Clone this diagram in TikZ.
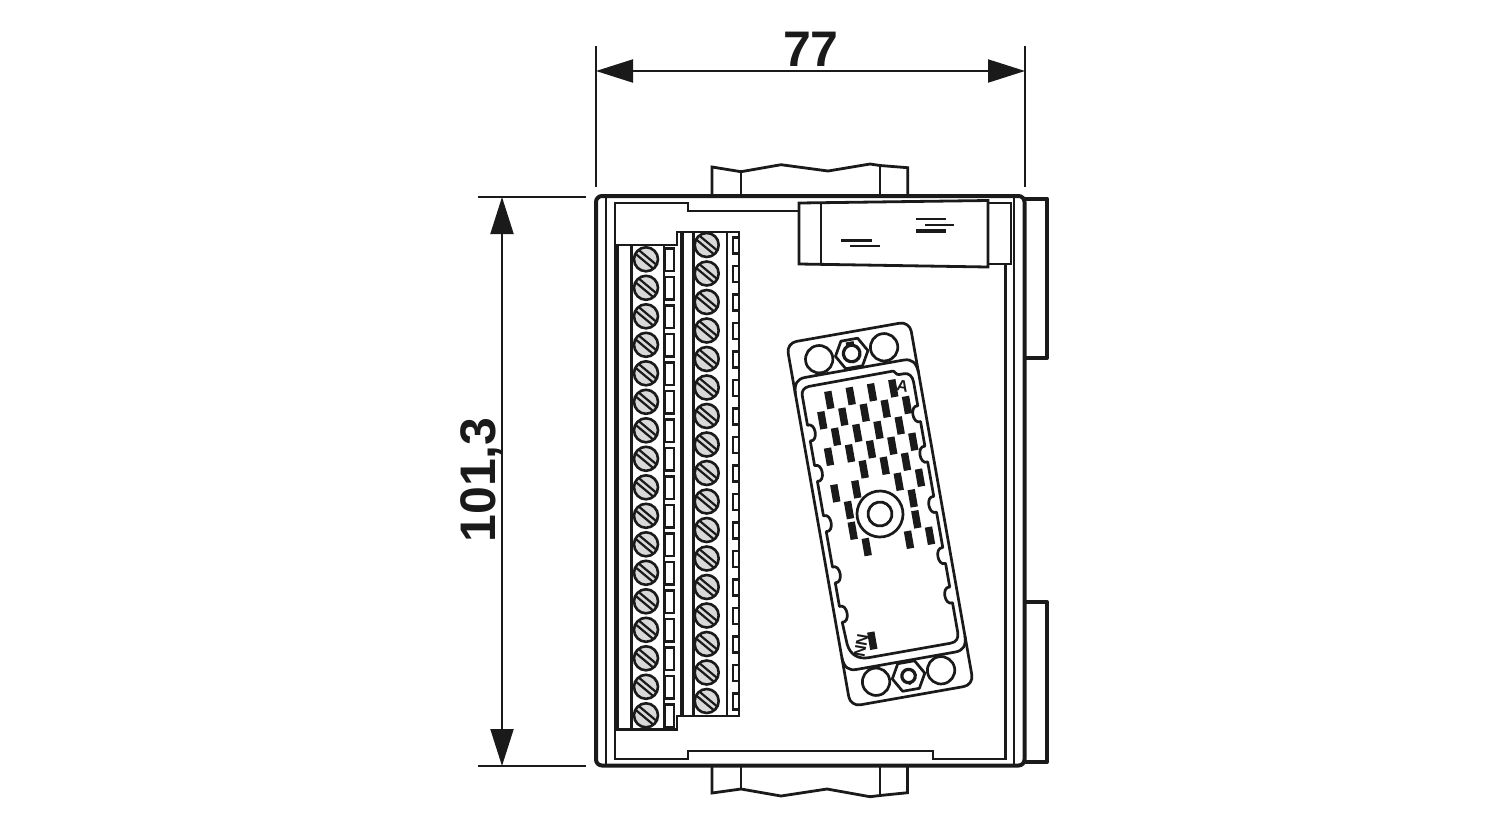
\documentclass[tikz,border=0pt]{standalone}
\usepackage{fontspec}
\setmainfont{Liberation Sans}
\usetikzlibrary{arrows.meta}
\definecolor{ink}{HTML}{1A1A1A}
\definecolor{screwgray}{HTML}{D9D9D9}
\tikzset{
  x=0.5pt,y=-0.5pt,
  base/.style={draw=ink,line width=1.4pt,line join=miter},
  heavy/.style={draw=ink,line width=2pt,line join=round},
  dimline/.style={draw=ink,line width=1pt},
  dimarrow/.style={draw=ink,line width=1pt,{Triangle[length=18.5pt,width=11.5pt,fill=ink]}-{Triangle[length=18.5pt,width=11.5pt,fill=ink]}},
  dimtext/.style={font=\fontsize{25}{25}\selectfont\bfseries,text=ink,inner sep=0pt},
  tinytext/.style={font=\fontsize{8}{8}\selectfont\bfseries,text=ink,inner sep=0pt},
  plate/.style={draw=ink,line width=1.35pt,line join=round},
}
\newcommand{\screwat}[2]{%
  \begin{scope}[shift={(#1,#2)}]
    \filldraw[fill=screwgray,draw=ink,line width=1.3pt] (0,0) circle[radius=12];
    \draw[draw=ink,line width=1.1pt] (-7.4,-9.4) -- (10.6,5.6);
    \draw[draw=ink,line width=1.1pt] (-10.6,-5.6) -- (7.4,9.4);
  \end{scope}}
\newcommand{\pinat}[2]{\fill[ink,shift={(#1,#2)},rotate=10] (-3.7,-8.8) rectangle (3.7,8.8);}
\begin{document}
\begin{tikzpicture}
\useasboundingbox (0,0) rectangle (1500,820);
\fill[white] (0,0) rectangle (1500,820);

% tabs top and bottom
\draw[base] (712,196) -- (712,167) -- (741,171.7) -- (781,164.7) -- (828,171) -- (870,164) -- (880,165.5) -- (907.7,167.7) -- (907.7,196);
\draw[base] (741,171.7) -- (741,196);
\draw[base] (880,165.5) -- (880,196);
\draw[base] (712,766) -- (712,793) -- (741,789) -- (781,796) -- (827,789) -- (870,796.7) -- (880,795.5) -- (907.5,792.7) -- (907.5,766);
\draw[base] (741,789) -- (741,766);
\draw[base] (880,795.5) -- (880,766);

% rails
\draw[heavy] (1024,198.5) -- (1047,198.5) -- (1047,358) -- (1024,358);
\draw[heavy] (1024,602) -- (1047,602) -- (1047,762) -- (1024,762);

% frame
\draw[heavy,rounded corners=3pt] (596,196) rectangle (1024.5,765.5);
\draw[base] (606,196) -- (606,765.5);
\draw[base] (1014,196) -- (1014,765.5);
\draw[base] (799,211) -- (688,211) -- (688,203) -- (615,203) -- (615,759) -- (688,759) -- (688,751) -- (933,751) -- (933,759) -- (1005.5,759) -- (1005.5,264);

% handle
\draw[base] (799,203) -- (988,200.5) -- (988,267) -- (799,264) -- cycle;
\draw[base] (821,202.7) -- (821,264.3);
\draw[base] (988,203) -- (1011,203) -- (1011,264) -- (988,264);
\draw[base] (916,219) -- (946,219) (925,225) -- (954,225);
\draw[draw=ink,line width=1.6pt] (916,231) -- (946,231);
\draw[base] (841,240.5) -- (872,240.5) (850,246) -- (880,246);

% terminal blocks
\draw[base] (616,245) -- (677,245) -- (677,232) -- (739,232) -- (739,716) -- (677,716) -- (677,729.5) -- (616,729.5) -- cycle;
\draw[heavy] (616.5,245) -- (616.5,729.5);
\draw[heavy] (681.7,232) -- (681.7,716);
\draw[base] (631.7,245) -- (631.7,729.5) (664,245) -- (664,729.5);
\draw[base] (693.3,232) -- (693.3,716) (727,232) -- (727,716);
\foreach \i in {0,...,16}{
  \pgfmathsetmacro\ya{259.3+28.5*\i}
  \pgfmathsetmacro\yb{245+28.5*\i}
  \pgfmathsetmacro\yc{248.5+28.5*\i}
  \pgfmathsetmacro\yd{\yc+22.5}
  \pgfmathsetmacro\ye{237.3+28.5*\i}
  \pgfmathsetmacro\yf{\ye+16}
  \screwat{646}{\ya}
  \screwat{706.7}{\yb}
  \draw[draw=ink,line width=1.2pt] (665,\yc) rectangle (674,\yd);
  \draw[draw=ink,line width=1.2pt] (739,\ye) -- (733,\ye) -- (733,\yf) -- (739,\yf);
}

% connector
\begin{scope}[shift={(880,514)},rotate=10]
  \draw[plate,rounded corners=5pt] (-62.5,-184.5) rectangle (62.5,184.5);
  % gasket edges
  \draw[plate] (-62.5,-133) .. controls (-62,-143) and (-58,-147.5) .. (-50,-147.5) -- (50,-147.5) .. controls (58,-147.5) and (62,-143) .. (62.5,-133);
  \draw[plate] (-62.5,135) .. controls (-62,145) and (-58,149) .. (-50,149) -- (50,149) .. controls (58,149) and (62,145) .. (62.5,135);
  % window
  \draw[plate]
    (-56,-130) .. controls (-56,-135) and (-53,-137.5) .. (-48,-138) -- (37.5,-138.5)
    .. controls (39,-138.5) and (40,-134) .. (43,-134) -- (48,-134)
    .. controls (53,-134) and (56,-130) .. (56,-124)
    \foreach \v in {-92,-51,0,52,92}{
      -- (56,\v-8) .. controls (47.5,\v-10) and (47.5,\v+10) .. (56,\v+8)
    }
    -- (56,130) .. controls (56,136) and (53,139.5) .. (47,139.5) -- (-36,139.5)
    .. controls (-46,139.5) and (-54,134) .. (-55,122)
    \foreach \v in {92,52,0,-51,-92}{
      -- (-56,\v+8) .. controls (-47.5,\v+10) and (-47.5,\v-10) .. (-56,\v-8)
    }
    -- cycle;
  % holes
  \draw[plate] (-33,-163) circle[radius=13.7] (33,-163.5) circle[radius=13.7];
  \draw[plate] (-33,164.5) circle[radius=13.7] (33,164.5) circle[radius=13.7];
  % nuts
  \draw[plate] (-16.5,-163) -- (-8.5,-177) -- (8.5,-177) -- (16.5,-163) -- (8.5,-149) -- (-8.5,-149) -- cycle;
  \draw[draw=ink,line width=1.6pt] (0,-163) circle[radius=8.3];
  \draw[plate] (-4,-173.5) -- (4,-173.5);
  \draw[plate] (-16.5,164.5) -- (-8.5,150.5) -- (8.5,150.5) -- (16.5,164.5) -- (8.5,178.5) -- (-8.5,178.5) -- cycle;
  \draw[draw=ink,line width=1.6pt] (0,164.5) circle[radius=6.7];
  \fill[ink] (0,171.5) circle[radius=2];
  % centre
  \draw[plate] (0,0) circle[radius=23];
  \draw[draw=ink,line width=1.4pt] (0,0) circle[radius=12];
\end{scope}
\foreach \p/\q in {829.3/400,850.7/396,872/392.3,893.3/388.3,
  822.3/420.3,843.3/416.7,864.7/412.7,885.7/408.7,907/405,
  836/436.7,857.3/433,878.5/430,899.7/425.5,913.3/441.7,
  829/456.7,850/453.3,871/449.3,892.3/445.7,
  863.7/469.3,884.7/465.7,906/461.7,
  835.3/493.3,856.3/489.3,898.7/481.7,920/477.7,
  849/510,912.7/498.3,852.7/530.7,916.3/519.3,
  866.7/547,909/539.7,930/535.7,872.3/640.7}{\pinat{\p}{\q}}
\node[tinytext,rotate=-10] (labela) at (902.5,386.5) {A};
\node[tinytext,rotate=-100] (labeln) at (861,645.5) {NN};

% dimensions
\coordinate (dl) at (596,71);
\coordinate (dr) at (1025,71);
\coordinate (dlt) at (596,46);
\coordinate (dlb) at (596,187);
\coordinate (drt) at (1025,46);
\coordinate (drb) at (1025,187);
\draw[dimline] (dlt) -- (dlb);
\draw[dimline] (drt) -- (drb);
\draw[dimarrow] (dl) -- (dr);
\node[dimtext,anchor=base] (w) at (811,66) {77};
\coordinate (vt) at (502,197);
\coordinate (vb) at (502,766);
\coordinate (vtl) at (478,197);
\coordinate (vtr) at (586,197);
\coordinate (vbl) at (478,766);
\coordinate (vbr) at (586,766);
\draw[dimline] (vtl) -- (vtr);
\draw[dimline] (vbl) -- (vbr);
\draw[dimarrow] (vt) -- (vb);
\node[dimtext,anchor=base,rotate=90] (h) at (495,480) {101,3};
\end{tikzpicture}
\end{document}
